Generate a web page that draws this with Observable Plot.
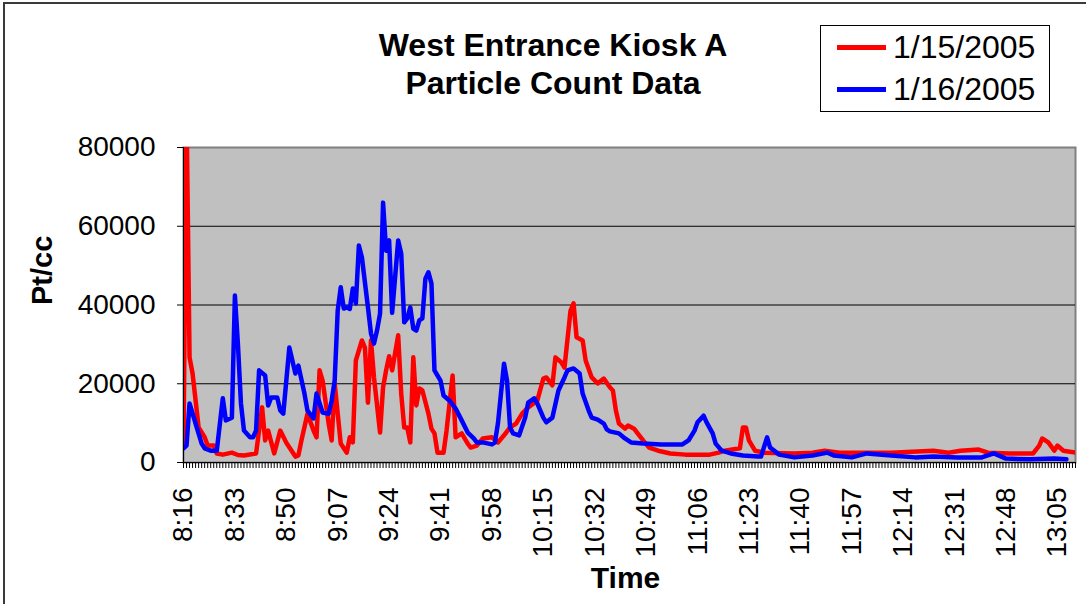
<!DOCTYPE html>
<html><head><meta charset="utf-8">
<script src="https://cdn.jsdelivr.net/npm/d3@7"></script>
<script src="https://cdn.jsdelivr.net/npm/@observablehq/plot@0.6"></script>
<style>
body{margin:0;background:#fff;font-family:"Liberation Sans",Arial,sans-serif}
#wrap{position:relative;width:1086px;height:604px;overflow:hidden;background:#fff}
#frame{position:absolute;left:3px;top:2px;width:1100px;height:620px;border-left:2px solid #3a3a3a;border-top:2px solid #3a3a3a}
#title{position:absolute;left:303px;top:26px;width:500px;text-align:center;font-weight:bold;font-size:32px;line-height:38px;color:#000}
#legend{position:absolute;left:820px;top:25px;width:230px;height:87px;border:1px solid #000;box-sizing:border-box;background:#fff}
.item{position:absolute;left:16px;height:38px;display:flex;align-items:center;font-size:32px;white-space:nowrap;color:#000}
.sw{display:inline-block;width:49px;height:5px;margin-right:7px}
#chart{position:absolute;left:0;top:130px}
</style></head>
<body>
<div id="wrap">
  <div id="frame"></div>
  <div id="title">West Entrance Kiosk A<br>Particle Count Data</div>
  <div id="legend"></div>
  <div id="chart"></div>
</div>
<script>
const seriesNames = ["1/15/2005", "1/16/2005"];
const seriesColors = ["#FF0000", "#0000FF"];

const red = [
["8:16",4000],["8:17",90000],["8:18",26700],["8:19",22600],["8:21",8900],["8:23",6400],["8:24",4300],
["8:26",4300],["8:27",2300],["8:29",2000],["8:32",2500],["8:34",1900],["8:36",1800],["8:40",2300],
["8:42",14000],["8:43",5600],["8:44",8100],["8:46",2300],["8:48",8100],["8:50",5000],["8:53",1500],
["8:54",1800],["8:55",5600],["8:57",12400],["8:59",8100],["9:00",6400],["9:01",23400],["9:02",20800],
["9:04",9900],["9:05",5600],["9:06",20100],["9:08",4800],["9:10",2500],["9:11",6400],["9:12",5100],
["9:13",25900],["9:15",31000],["9:16",29200],["9:17",15200],["9:18",31000],["9:19",21600],["9:21",7600],
["9:22",19100],["9:23",23400],["9:24",27000],["9:25",23400],["9:27",32300],["9:28",17500],["9:29",8900],
["9:30",8900],["9:31",5100],["9:32",26700],["9:33",14500],["9:34",18800],["9:35",18300],["9:37",12400],
["9:38",8600],["9:39",7400],["9:40",2500],["9:42",2500],["9:43",8100],["9:45",22100],["9:46",6400],
["9:48",7400],["9:50",4800],["9:51",3800],["9:53",4300],["9:55",6100],["9:58",6400],["10:00",5100],
["10:02",6900],["10:04",8900],["10:06",9900],["10:08",12400],["10:10",14000],["10:13",15700],["10:15",21300],
["10:16",21600],["10:18",19600],["10:19",26700],["10:21",25400],["10:22",24100],["10:24",38600],["10:25",40400],
["10:26",31800],["10:28",31000],["10:29",25900],["10:31",21600],["10:33",20100],["10:35",21300],["10:37",19100],
["10:38",18300],["10:39",13200],["10:40",9900],["10:42",8600],["10:43",9400],["10:45",8600],["10:46",7600],
["10:48",5600],["10:50",3800],["10:53",3000],["10:57",2300],["11:02",2000],["11:10",2000],["11:13",2500],
["11:15",3000],["11:20",3600],["11:21",8900],["11:22",8900],["11:23",5600],["11:25",3000],["11:28",2500],
["11:38",2300],["11:44",2500],["11:48",3000],["11:53",2500],["12:10",2500],["12:24",3000],["12:29",2500],
["12:33",3000],["12:39",3300],["12:42",2500],["12:49",2300],["12:57",2300],["12:59",4300],["13:00",6100],
["13:02",5100],["13:04",3000],["13:05",4300],["13:07",3000],["13:11",2500]
];

const blue = [
["8:16",3600],["8:17",4300],["8:18",15000],["8:20",9900],["8:22",4800],["8:23",3600],["8:25",3000],
["8:27",3000],["8:29",16300],["8:30",10700],["8:32",11400],["8:33",42400],["8:34",30000],["8:35",15000],
["8:36",8100],["8:38",6400],["8:39",6400],["8:40",8100],["8:41",23400],["8:43",22100],["8:44",14500],
["8:45",16500],["8:47",16500],["8:48",13200],["8:49",12400],["8:51",29200],["8:53",22600],["8:54",24600],
["8:56",17500],["8:57",13200],["8:59",11200],["9:00",17500],["9:02",12700],["9:04",12400],["9:05",15700],
["9:06",20800],["9:07",38600],["9:08",44500],["9:09",39100],["9:10",39400],["9:11",39000],["9:12",44200],
["9:13",40400],["9:14",55100],["9:15",52100],["9:17",39400],["9:18",32800],["9:19",30200],["9:20",33500],
["9:21",37800],["9:22",66000],["9:23",53800],["9:24",56400],["9:25",38000],["9:27",56400],["9:28",53100],
["9:29",35600],["9:30",36600],["9:31",39400],["9:32",34000],["9:33",33500],["9:34",36100],["9:35",36600],
["9:36",46700],["9:37",48300],["9:38",45500],["9:39",23400],["9:41",20800],["9:42",17000],["9:44",15700],
["9:46",13700],["9:48",10700],["9:50",7600],["9:52",6100],["9:53",5100],["9:55",5100],["9:58",4600],
["9:59",5100],["10:00",10000],["10:02",25100],["10:03",20800],["10:04",8900],["10:05",7400],["10:07",6900],
["10:09",11400],["10:10",15200],["10:12",16300],["10:13",15000],["10:15",11400],["10:16",10200],["10:18",11400],
["10:20",18300],["10:22",21600],["10:23",23400],["10:25",23900],["10:27",22600],["10:28",17500],["10:30",13200],
["10:31",11400],["10:33",10900],["10:35",9900],["10:36",8400],["10:37",7900],["10:40",7400],["10:42",6100],
["10:44",5100],["10:48",4800],["10:54",4600],["11:01",4600],["11:03",5600],["11:05",8100],["11:06",10200],
["11:08",11900],["11:09",10200],["11:11",7400],["11:12",4800],["11:14",3000],["11:17",2300],["11:21",1800],
["11:26",1500],["11:27",1500],["11:29",6400],["11:30",3800],["11:33",2000],["11:38",1300],["11:44",1800],
["11:49",2500],["11:51",1800],["11:57",1300],["12:02",2300],["12:10",1800],["12:18",1300],["12:24",1500],
["12:32",1300],["12:40",1300],["12:44",2300],["12:48",1000],["12:56",800],["13:04",1000],["13:08",800]
];

const xTickLabels = ["8:16","8:33","8:50","9:07","9:24","9:41","9:58","10:15","10:32","10:49",
  "11:06","11:23","11:40","11:57","12:14","12:31","12:48","13:05"];
const yTicks = [0, 20000, 40000, 60000, 80000];
const firstTime = "8:16";
const lastTime = "13:11";

const toAbs = s => { const [h, m] = s.split(":").map(Number); return h * 60 + m; };
const base = toAbs(firstTime);
const toMin = s => toAbs(s) - base;
const fmt = t => { const m = t + base; return Math.floor(m / 60) + ":" + String(m % 60).padStart(2, "0"); };

const redData = red.map(([t, v]) => ({t: toMin(t), v}));
const blueData = blue.map(([t, v]) => ({t: toMin(t), v}));
const lastMin = toMin(lastTime);
const minuteTicks = d3.range(0, lastMin + 1);
const labelTicks = xTickLabels.map(toMin);

// legend
const legend = document.getElementById("legend");
seriesNames.forEach((name, i) => {
  const it = document.createElement("div");
  it.className = "item";
  it.style.top = (2 + i * 42) + "px";
  it.innerHTML = `<span class="sw" style="background:${seriesColors[i]}"></span><span>${name}</span>`;
  legend.appendChild(it);
});

const chart = Plot.plot({
  width: 1086,
  height: 474,
  marginLeft: 183,
  marginRight: 11,
  marginTop: 17,
  marginBottom: 142,
  style: {fontFamily: "'Liberation Sans', Arial, sans-serif", fontSize: "28px", color: "#000", background: "transparent", overflow: "visible"},
  x: {domain: [0, lastMin]},
  y: {domain: [0, 80000]},
  marks: [
    Plot.frame({fill: "#C0C0C0", stroke: "#808080", strokeWidth: 2}),
    Plot.gridY([20000, 40000, 60000], {stroke: "#000", strokeOpacity: 1, strokeWidth: 1}),
    Plot.line(redData, {x: "t", y: "v", stroke: seriesColors[0], strokeWidth: 4.5, clip: true}),
    Plot.line(blueData, {x: "t", y: "v", stroke: seriesColors[1], strokeWidth: 4.5, clip: true}),
    Plot.ruleX([0], {stroke: "#000", strokeWidth: 1}),
    Plot.ruleY([0], {stroke: "#000", strokeWidth: 1}),
    Plot.axisY({ticks: yTicks, tickSize: 6, tickPadding: 22, tickFormat: d => String(d), label: null, fontSize: 28}),
    Plot.axisX({ticks: minuteTicks, tickSize: 6, tickFormat: () => "", label: null, strokeWidth: 1}),
    Plot.axisX({ticks: labelTicks, tickSize: 0, tickPadding: 25, tickRotate: -90, tickFormat: fmt, label: null, fontSize: 28}),
    Plot.text(["Pt/cc"], {frameAnchor: "left", dx: -141, rotate: -90, fontWeight: "bold", fontSize: 29}),
    Plot.text(["Time"], {frameAnchor: "bottom", dy: 125, dx: -4, fontWeight: "bold", fontSize: 30})
  ]
});
document.getElementById("chart").appendChild(chart);
</script>
</body></html>
